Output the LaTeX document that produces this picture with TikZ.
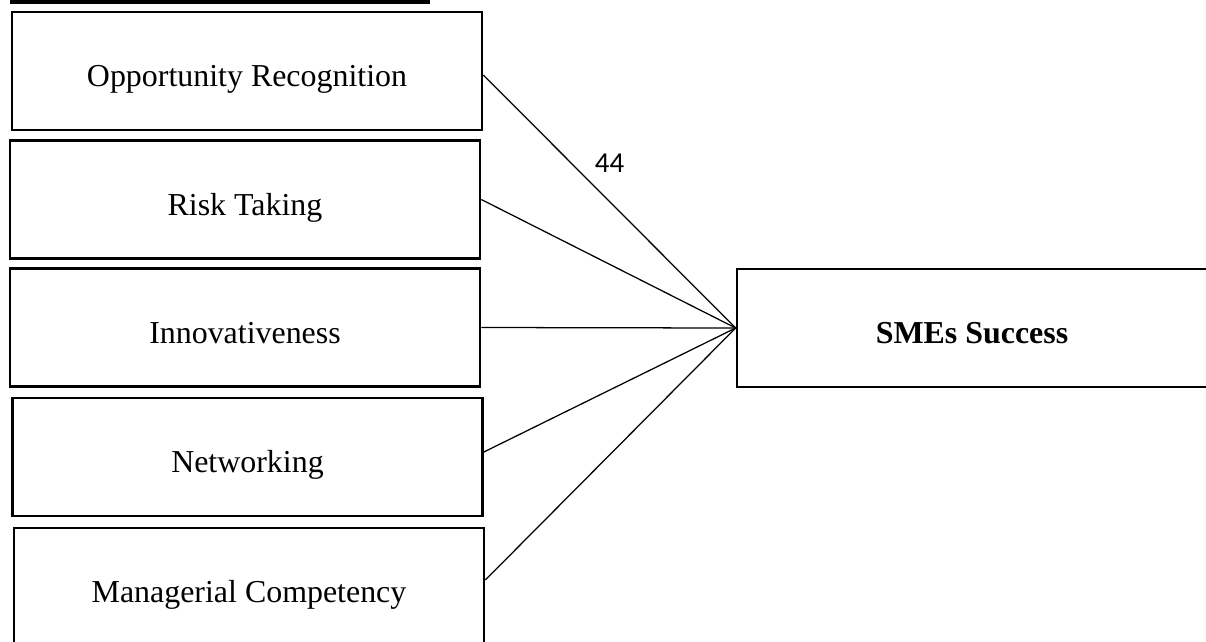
\documentclass[tikz,border=0pt]{standalone}
\usepackage{fontspec}
\setmainfont{Liberation Serif}
\newfontfamily\labelfont{Carlito}
\usepackage{tikz}
\usetikzlibrary{positioning}

\tikzset{
    factor/.style={draw, line width=1.8pt, minimum width=11.75cm,
        minimum height=2.95cm, inner sep=0pt,
        text height=0.78cm, text depth=0pt,
        font=\fontsize{22.7}{26}\selectfont},
    link/.style={line width=0.9pt}
}

\begin{document}
\begin{tikzpicture}[x=0.025cm, y=-0.025cm]
        \useasboundingbox (0,0) rectangle (1206,641);
        \clip (0,0) rectangle (1206,641);

        % heading rule (text cut off above)
        \draw[line width=2.6pt] (10,2) -- (430,2);

        % Independent variables
        \node [factor] (opp) at (247,71) {Opportunity Recognition};
        \node [factor] (risk) at (245,199.5) {Risk Taking};
        \node [factor] (inno) at (245,327.5) {Innovativeness};
        \node [factor] (net) at (247.5,457) {Networking};
        \node [factor] (man) at (249,587) {Managerial Competency};

        % Dependent variable
        \node [factor,
        minimum width=11.75cm
            ] (sme) at (972,328) {\textbf{SMEs Success}};

        \draw[link] ([yshift=-0.1cm]opp.east) -- (sme.west)
            node[pos=0.35, right=0.45cm, font=\labelfont\fontsize{20.5}{24}\selectfont]{44};
        \draw[link] (risk.east) -- (sme.west);
        \draw[link] (inno.east) -- (sme.west);
        \draw[link] ([yshift=0.125cm]net.east) -- (sme.west);
        \draw[link] ([yshift=0.175cm]man.east) -- (sme.west);
\end{tikzpicture}
\end{document}
